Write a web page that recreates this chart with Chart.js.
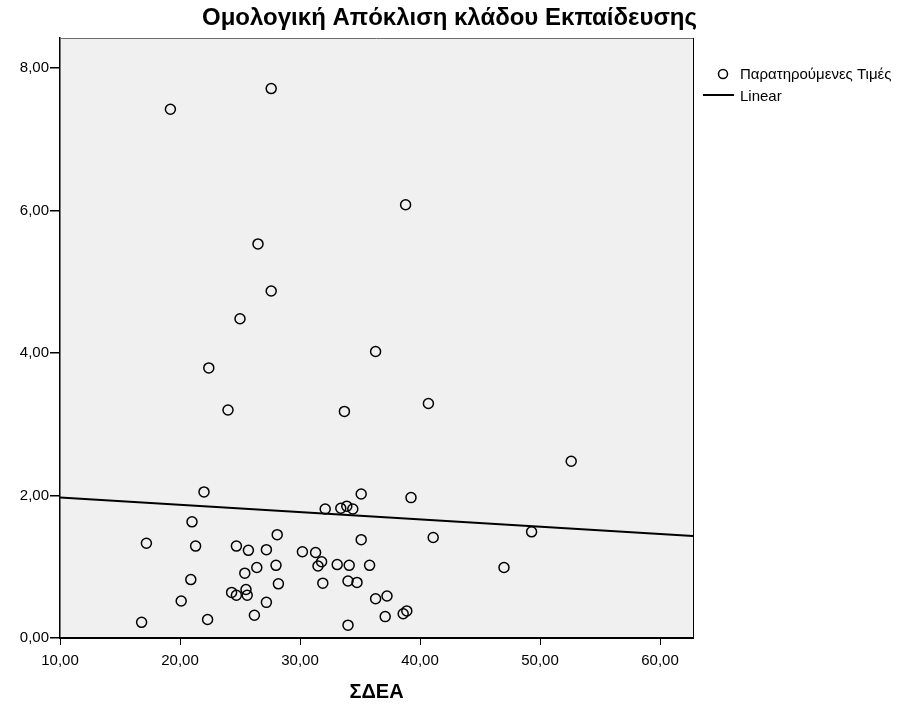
<!DOCTYPE html>
<html>
<head>
<meta charset="utf-8">
<script src="https://cdn.jsdelivr.net/npm/chart.js@4.4.1/dist/chart.umd.min.js"></script>
<style>
    html, body { margin: 0; padding: 0; background: #fff; }
    #wrap { width: 899px; height: 704px; }
</style>
</head>
<body>
<div id="wrap"><canvas id="chart" width="899" height="704"></canvas></div>
<script>
// ─── DONNÉES ──────────────────────────────────────────────────────────────
const sdeaValues = [
    16.8, 17.2, 19.2, 20.1, 20.9, 21.0, 21.3, 22.0, 22.3, 22.4,
    24.0, 24.3, 24.7, 24.7, 25.0, 25.4, 25.5, 25.6, 25.7, 26.2,
    26.4, 26.5, 27.2, 27.2, 27.6, 27.6, 28.0, 28.1, 28.2, 30.2,
    31.3, 31.5, 31.8, 31.9, 32.1, 33.1, 33.4, 33.7, 33.9, 34.0,
    34.0, 34.1, 34.4, 34.75, 35.1, 35.1, 35.8, 36.3, 36.3, 37.1,
    37.25, 38.6, 38.8, 38.9, 39.25, 40.7, 41.1, 47.0, 49.3, 52.6
];
const deviationValues = [
    0.22, 1.33, 7.42, 0.52, 0.82, 1.63, 1.29, 2.05, 0.26, 3.79,
    3.20, 0.64, 1.29, 0.60, 4.48, 0.91, 0.68, 0.60, 1.23, 0.32,
    0.99, 5.53, 1.24, 0.50, 7.71, 4.87, 1.02, 1.45, 0.76, 1.21,
    1.20, 1.01, 1.07, 0.77, 1.81, 1.03, 1.82, 3.18, 1.85, 0.80,
    0.18, 1.02, 1.81, 0.78, 2.02, 1.38, 1.02, 4.02, 0.55, 0.30,
    0.59, 0.34, 6.08, 0.38, 1.97, 3.29, 1.41, 0.99, 1.49, 2.48
];
// droite "Linear" lue aux deux bords du graphique
const linearX = [10, 62.75];
const linearY = [1.97, 1.43];

const xTicks = [10, 20, 30, 40, 50, 60];
const yTicks = [0, 2, 4, 6, 8];

const titleText  = 'Ομολογική Απόκλιση κλάδου Εκπαίδευσης';
const xTitleText = 'ΣΔΕΑ';
const legendLabels = ['Παρατηρούμενες Τιμές', 'Linear'];

const FONT = "'Liberation Sans', Arial, sans-serif";
const fmt = v => Number(v).toFixed(2).replace('.', ',');

// ─── PLUGINS ──────────────────────────────────────────────────────────────
const plotFrame = {
    id: 'plotFrame',
    beforeDraw(chart) {
        const { ctx, chartArea: a } = chart;
        ctx.save();
        ctx.fillStyle = '#f0f0f0';
        ctx.fillRect(a.left, a.top, a.right - a.left, a.bottom - a.top);
        ctx.restore();
    },
    afterDraw(chart) {
        const { ctx, chartArea: a } = chart;
        ctx.save();
        ctx.lineWidth = 1;
        ctx.strokeStyle = '#6e6e6e';
        ctx.beginPath();
        ctx.moveTo(a.left, a.top + 0.5);
        ctx.lineTo(a.right, a.top + 0.5);
        ctx.stroke();
        ctx.strokeStyle = '#000';
        ctx.beginPath();
        ctx.moveTo(a.right + 0.5, a.top);
        ctx.lineTo(a.right + 0.5, a.bottom);
        ctx.stroke();
        ctx.restore();
    }
};

const sideLegend = {
    id: 'sideLegend',
    afterDraw(chart) {
        const { ctx, chartArea: a } = chart;
        const x0 = a.right + 10;
        ctx.save();
        ctx.font = '15px ' + FONT;
        ctx.fillStyle = '#000';
        ctx.textBaseline = 'middle';
        // cercle
        ctx.strokeStyle = '#000';
        ctx.lineWidth = 1.5;
        ctx.beginPath();
        ctx.arc(x0 + 20, 74, 4.5, 0, Math.PI * 2);
        ctx.stroke();
        ctx.fillText(legendLabels[0], x0 + 37, 75);
        // ligne
        ctx.lineWidth = 2;
        ctx.beginPath();
        ctx.moveTo(x0, 95);
        ctx.lineTo(x0 + 31, 95);
        ctx.stroke();
        ctx.fillText(legendLabels[1], x0 + 37, 97);
        ctx.restore();
    }
};

// ─── GRAPHIQUE ────────────────────────────────────────────────────────────
const ctx = document.getElementById('chart').getContext('2d');

new Chart(ctx, {
    type: 'scatter',
    data: {
        datasets: [
            {
                label: legendLabels[0],
                data: sdeaValues.map((x, i) => ({ x, y: deviationValues[i] })),
                pointRadius: 5,
                pointHoverRadius: 5,
                pointBorderWidth: 1.5,
                pointBorderColor: '#000',
                pointBackgroundColor: 'rgba(0,0,0,0)',
                order: 2
            },
            {
                type: 'line',
                label: legendLabels[1],
                data: linearX.map((x, i) => ({ x, y: linearY[i] })),
                borderColor: '#000',
                borderWidth: 2,
                pointRadius: 0,
                fill: false,
                order: 1
            }
        ]
    },
    options: {
        responsive: false,
        animation: false,
        events: [],
        layout: { padding: 0 },
        scales: {
            x: {
                type: 'linear',
                min: 10, max: 62.75,
                afterBuildTicks: s => { s.ticks = xTicks.map(v => ({ value: v })); },
                afterFit: s => { s.height = 66; },
                grid: { drawOnChartArea: false, drawTicks: true, tickLength: 7, color: '#000', lineWidth: 1 },
                border: { display: true, color: '#000', width: 2 },
                ticks: {
                    color: '#000',
                    padding: 7,
                    maxRotation: 0,
                    font: { family: FONT, size: 15 },
                    callback: v => fmt(v)
                },
                title: {
                    display: true,
                    text: xTitleText,
                    color: '#000',
                    font: { family: FONT, size: 20, weight: 'bold' },
                    padding: { top: 0, bottom: 0 }
                }
            },
            y: {
                min: 0, max: 8.42,
                afterBuildTicks: s => { s.ticks = yTicks.map(v => ({ value: v })); },
                afterFit: s => { s.width = 60; },
                grid: { drawOnChartArea: false, drawTicks: true, tickLength: 10, color: '#000', lineWidth: 1.5 },
                border: { display: true, color: '#000', width: 1.5 },
                ticks: {
                    color: '#000',
                    padding: 1,
                    font: { family: FONT, size: 15 },
                    callback: v => fmt(v)
                }
            },
            // axe invisible : réserve la marge droite pour la légende
            side: {
                position: 'right',
                display: true,
                afterFit: s => { s.width = 206; },
                grid: { display: false },
                border: { display: false },
                ticks: { display: false }
            }
        },
        plugins: {
            legend: { display: false },
            tooltip: { enabled: false },
            title: {
                display: true,
                text: titleText,
                color: '#000',
                font: { family: FONT, size: 24, weight: 'bold' },
                padding: { top: 4, bottom: 5.2 }
            }
        }
    },
    plugins: [plotFrame, sideLegend]
});
</script>
</body>
</html>
